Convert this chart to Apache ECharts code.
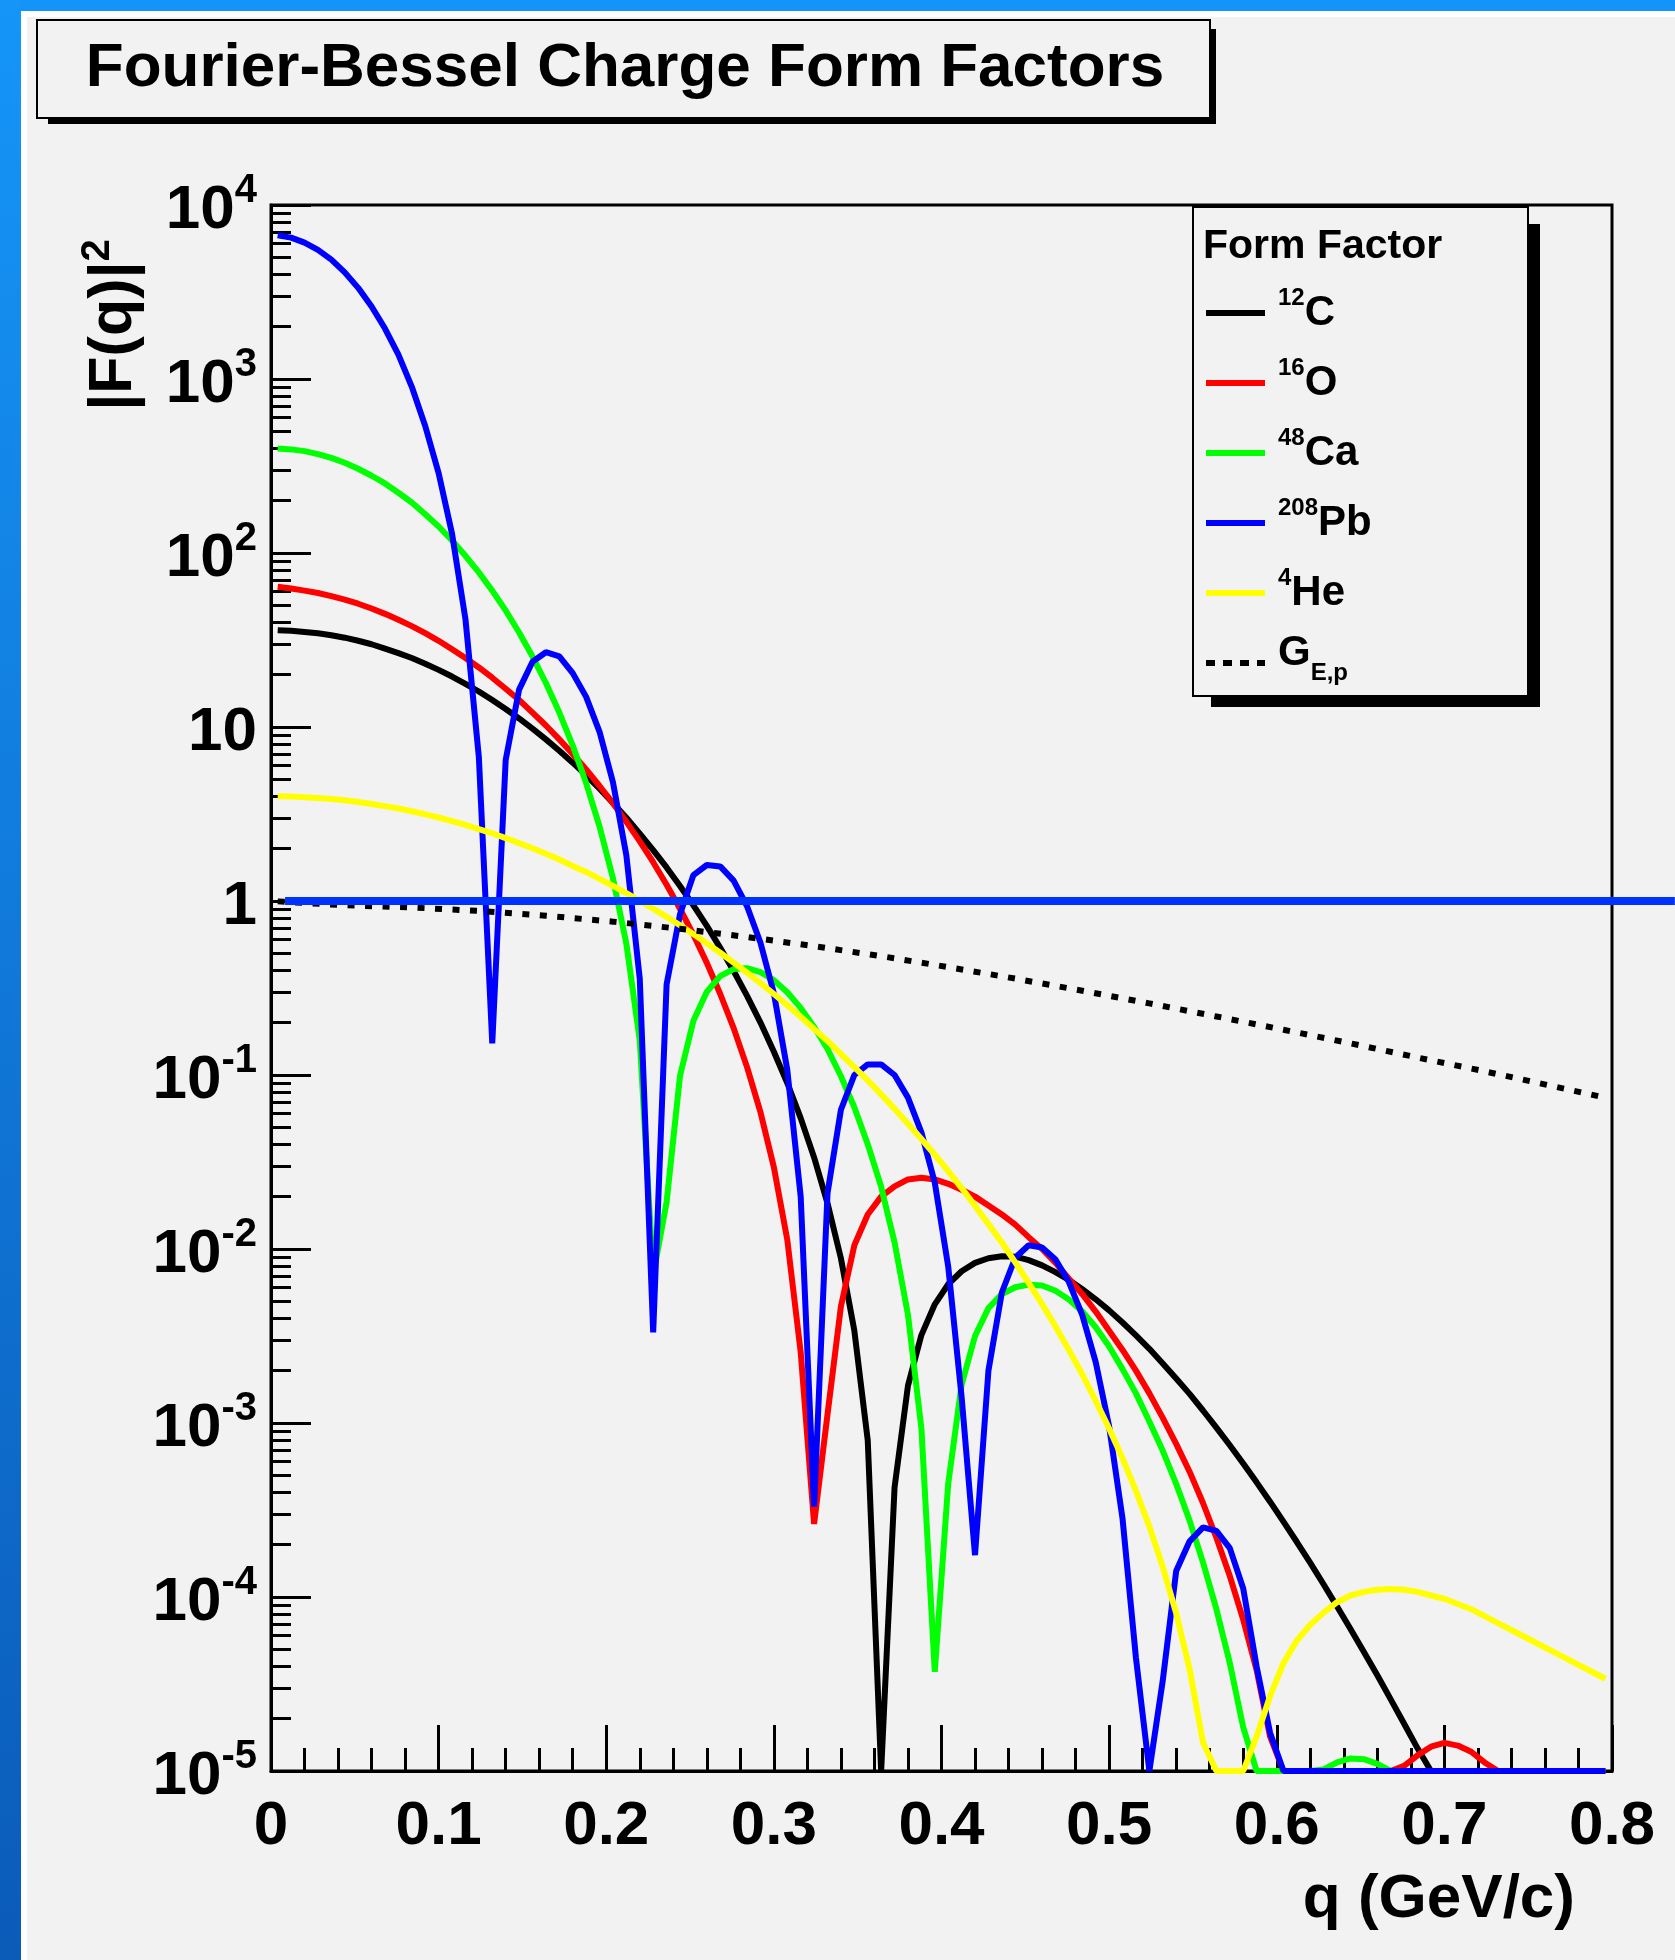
<!DOCTYPE html>
<html>
<head>
<meta charset="utf-8">
<title>Fourier-Bessel Charge Form Factors</title>
<script src="https://cdn.jsdelivr.net/npm/echarts@6/dist/echarts.min.js"></script>
<style>
  html, body { margin: 0; padding: 0; background: #f2f2f2; }
  #chart { width: 1675px; height: 1960px; }
</style>
</head>
<body>
<div id="chart"></div>
<script>
// momentum transfer q (GeV/c), sampled at bin centres
const q = [
  0.004, 0.012, 0.020, 0.028, 0.036, 0.044, 0.052, 0.060, 0.068, 0.076,
  0.084, 0.092, 0.100, 0.108, 0.116, 0.124, 0.132, 0.140, 0.148, 0.156,
  0.164, 0.172, 0.180, 0.188, 0.196, 0.204, 0.212, 0.220, 0.228, 0.236,
  0.244, 0.252, 0.260, 0.268, 0.276, 0.284, 0.292, 0.300, 0.308, 0.316,
  0.324, 0.332, 0.340, 0.348, 0.356, 0.364, 0.372, 0.380, 0.388, 0.396,
  0.404, 0.412, 0.420, 0.428, 0.436, 0.444, 0.452, 0.460, 0.468, 0.476,
  0.484, 0.492, 0.500, 0.508, 0.516, 0.524, 0.532, 0.540, 0.548, 0.556,
  0.564, 0.572, 0.580, 0.588, 0.596, 0.604, 0.612, 0.620, 0.628, 0.636,
  0.644, 0.652, 0.660, 0.668, 0.676, 0.684, 0.692, 0.700, 0.708, 0.716,
  0.724, 0.732, 0.740, 0.748, 0.756, 0.764, 0.772, 0.780, 0.788, 0.796
];

// |F(q)|^2 (values at the 1e-5 floor are drawn on the floor)
const c12 = [
  36.0, 35.7, 35.2, 34.6, 33.7, 32.6, 31.3, 29.9, 28.2, 26.6,
  24.9, 23.1, 21.3, 19.5, 17.7, 16.0, 14.3, 12.7, 11.2, 9.79,
  8.49, 7.31, 6.24, 5.27, 4.42, 3.66, 3.01, 2.44, 1.96, 1.56,
  1.22, 0.944, 0.719, 0.538, 0.396, 0.285, 0.200, 0.136, 0.0899, 0.0565,
  0.0336, 0.0183, 0.00883, 0.00340, 0.000794, 1e-5, 0.000427, 0.00164, 0.00320, 0.00481,
  0.00627, 0.00745, 0.00832, 0.00885, 0.00908, 0.00904, 0.00863, 0.00805, 0.00736, 0.00664,
  0.00587, 0.00514, 0.00444, 0.00378, 0.00319, 0.00267, 0.00220, 0.00180, 0.00147, 0.00118,
  0.000940, 0.000745, 0.000585, 0.000456, 0.000353, 0.000271, 0.000207, 0.000157, 0.000118, 8.81e-5,
  6.55e-5, 4.83e-5, 3.55e-5, 2.58e-5, 1.87e-5, 1.35e-5, 1e-5, 1e-5, 1e-5, 1e-5,
  1e-5, 1e-5, 1e-5, 1e-5, 1e-5, 1e-5, 1e-5, 1e-5, 1e-5, 1e-5
];
const o16 = [
  64.0, 62.5, 60.8, 58.9, 56.5, 54.0, 51.1, 48.0, 44.7, 41.3,
  38.0, 34.6, 31.3, 28.0, 24.9, 22.0, 19.2, 16.6, 14.3, 12.1,
  10.2, 8.49, 7.00, 5.70, 4.58, 3.65, 2.85, 2.20, 1.67, 1.24,
  0.902, 0.640, 0.441, 0.292, 0.186, 0.111, 0.0611, 0.0295, 0.0113, 0.00255,
  0.000263, 0.00112, 0.00468, 0.0105, 0.0158, 0.0200, 0.0229, 0.0251, 0.0257, 0.0251,
  0.0237, 0.0219, 0.0200, 0.0178, 0.0158, 0.0138, 0.0117, 0.0100, 0.00832, 0.00676,
  0.00550, 0.00437, 0.00339, 0.00263, 0.00200, 0.00148, 0.00107, 0.000759, 0.000525, 0.000347,
  0.000219, 0.000132, 7.41e-5, 3.80e-5, 1.58e-5, 1e-5, 1e-5, 1e-5, 1e-5, 1e-5,
  1e-5, 1e-5, 1e-5, 1e-5, 1.07e-5, 1.23e-5, 1.38e-5, 1.45e-5, 1.40e-5, 1.29e-5,
  1.12e-5, 1e-5, 1e-5, 1e-5, 1e-5, 1e-5, 1e-5, 1e-5, 1e-5, 1e-5
];
const ca48 = [
  399, 394, 385, 370, 352, 330, 305, 278, 251, 222,
  195, 167, 142, 118, 96.4, 77.3, 60.8, 46.7, 34.9, 25.4,
  17.9, 12.1, 7.82, 4.76, 2.68, 1.35, 0.568, 0.158, 0.00708, 0.0186,
  0.0989, 0.205, 0.301, 0.370, 0.406, 0.411, 0.390, 0.351, 0.299, 0.243,
  0.189, 0.141, 0.0984, 0.0653, 0.0400, 0.0228, 0.0109, 0.00419, 0.000933, 3.72e-5,
  0.000447, 0.00166, 0.00316, 0.00457, 0.00550, 0.00603, 0.00624, 0.00617, 0.00575, 0.00513,
  0.00437, 0.00355, 0.00275, 0.00204, 0.00148, 0.00102, 0.000692, 0.000447, 0.000275, 0.000158,
  8.51e-5, 4.17e-5, 1.78e-5, 1e-5, 1e-5, 1e-5, 1e-5, 1e-5, 1.02e-5, 1.12e-5,
  1.18e-5, 1.17e-5, 1.10e-5, 1e-5, 1e-5, 1e-5, 1e-5, 1e-5, 1e-5, 1e-5,
  1e-5, 1e-5, 1e-5, 1e-5, 1e-5, 1e-5, 1e-5, 1e-5, 1e-5, 1e-5
];
const pb208 = [
  6700, 6490, 6080, 5520, 4850, 4100, 3340, 2610, 1950, 1380,
  902, 537, 288, 129, 41.7, 6.71, 0.152, 6.46, 16.4, 23.7,
  26.9, 25.5, 20.4, 14.9, 9.38, 4.81, 1.83, 0.357, 0.00332, 0.332,
  0.839, 1.41, 1.61, 1.58, 1.31, 0.933, 0.575, 0.295, 0.107, 0.0200,
  0.000331, 0.0209, 0.0631, 0.100, 0.115, 0.115, 0.100, 0.0741, 0.0468, 0.0240,
  0.00794, 0.00141, 0.000174, 0.00200, 0.00562, 0.00891, 0.0105, 0.0102, 0.00871, 0.00646,
  0.00417, 0.00224, 0.000955, 0.000282, 4.47e-5, 1e-5, 3.31e-5, 0.000141, 0.000209, 0.000251,
  0.000240, 0.000191, 0.000112, 3.98e-5, 1.66e-5, 1e-5, 1e-5, 1e-5, 1e-5, 1e-5,
  1e-5, 1e-5, 1e-5, 1e-5, 1e-5, 1e-5, 1e-5, 1e-5, 1e-5, 1e-5,
  1e-5, 1e-5, 1e-5, 1e-5, 1e-5, 1e-5, 1e-5, 1e-5, 1e-5, 1e-5
];
const he4 = [
  4.00, 3.98, 3.95, 3.91, 3.86, 3.79, 3.71, 3.61, 3.51, 3.40,
  3.28, 3.15, 3.02, 2.88, 2.74, 2.59, 2.45, 2.30, 2.15, 2.01,
  1.87, 1.73, 1.59, 1.47, 1.34, 1.22, 1.11, 1.00, 0.904, 0.811,
  0.725, 0.645, 0.571, 0.504, 0.442, 0.387, 0.337, 0.292, 0.252, 0.216,
  0.184, 0.157, 0.132, 0.111, 0.0931, 0.0774, 0.0639, 0.0525, 0.0429, 0.0348,
  0.0280, 0.0224, 0.0177, 0.0139, 0.0109, 0.00838, 0.00639, 0.00482, 0.00359, 0.00263,
  0.00190, 0.00134, 0.000930, 0.000626, 0.000407, 0.000254, 0.000149, 8.07e-5, 3.85e-5, 1.46e-5,
  1e-5, 1e-5, 1e-5, 1.58e-5, 2.69e-5, 4.17e-5, 5.62e-5, 6.92e-5, 8.13e-5, 9.33e-5,
  0.000102, 0.000107, 0.000110, 0.000111, 0.000110, 0.000107, 0.000102, 9.77e-5, 9.12e-5, 8.51e-5,
  7.76e-5, 7.08e-5, 6.46e-5, 5.89e-5, 5.37e-5, 4.90e-5, 4.47e-5, 4.07e-5, 3.72e-5, 3.39e-5
];

// proton electric form factor (dotted)
const qGep = [0.004, 0.044, 0.084, 0.124, 0.164, 0.204, 0.244, 0.284, 0.324, 0.364, 0.404,
              0.444, 0.484, 0.524, 0.564, 0.604, 0.644, 0.684, 0.724, 0.764, 0.796];
const gep = [0.995, 0.945, 0.918, 0.877, 0.823, 0.761, 0.692, 0.621, 0.550, 0.482, 0.417,
             0.358, 0.305, 0.258, 0.217, 0.182, 0.152, 0.126, 0.105, 0.0866, 0.0740];

// horizontal line at |F|^2 = 1, it runs out past the frame to the window edge
const unityX = [0.0084, 0.8375];
const unityY = [1, 1];

const legendText = {
  '12C': '{sp| }{s|12}{m|C}',
  '16O': '{sp| }{s|16}{m|O}',
  '48Ca': '{sp| }{s|48}{m|Ca}',
  '208Pb': '{sp| }{s|208}{m|Pb}',
  '4He': '{sp| }{s|4}{m|He}',
  'GEp': '{sp| }{g|G}{b|E,p}'
};

const FONT = '"Liberation Sans", Arial, Helvetica, sans-serif';

function curve(name, xs, ys, color, extra) {
  return Object.assign({
    name: name,
    type: 'line',
    data: xs.map(function (x, i) { return [x, ys[i]]; }),
    symbol: 'none',
    showSymbol: false,
    clip: false,
    silent: true,
    lineStyle: { color: color, width: 6 },
    itemStyle: { color: color },
    emphasis: { disabled: true }
  }, extra || {});
}

const chart = echarts.init(document.getElementById('chart'), null, { renderer: 'canvas' });

const option = {
  animation: false,
  backgroundColor: '#f2f2f2',
  title: [
    {
      text: 'Fourier-Bessel Charge Form Factors',
      left: 625, top: 69, padding: 0,
      textAlign: 'center', textVerticalAlign: 'middle',
      textStyle: { fontFamily: FONT, fontSize: 62, fontWeight: 'bold', color: '#000', lineHeight: 62 },
      z: 6
    },
    {
      text: 'Form Factor',
      left: 1203, top: 247, padding: 0,
      textAlign: 'left', textVerticalAlign: 'middle',
      textStyle: { fontFamily: FONT, fontSize: 41, fontWeight: 'bold', color: '#000', lineHeight: 41 },
      z: 6
    }
  ],
  grid: [
    {
      left: 271, top: 205, width: 1341, height: 1566,
      show: true, borderColor: '#000', borderWidth: 3, backgroundColor: 'transparent'
    },
    // same scale, stretched to the right window edge, for the unity line
    { left: 271, top: 205, width: 1404, height: 1566, show: false }
  ],
  xAxis: [
    {
      type: 'value', min: 0, max: 0.8, interval: 0.1,
      axisLine: { show: true, onZero: false, lineStyle: { color: '#000', width: 3 } },
      axisTick: { show: true, inside: true, length: 46, lineStyle: { color: '#000', width: 3 } },
      minorTick: { show: true, splitNumber: 5, length: 23, lineStyle: { color: '#000', width: 3 } },
      splitLine: { show: false },
      axisLabel: {
        margin: 25, color: '#000', fontFamily: FONT, fontSize: 62, fontWeight: 'bold', lineHeight: 62,
        showMinLabel: true, showMaxLabel: true
      }
    },
    { gridIndex: 1, type: 'value', min: 0, max: 0.8 * 1404 / 1341, show: false }
  ],
  yAxis: [
    {
      type: 'log', logBase: 10, min: 1e-5, max: 1e4, splitNumber: 9,
      axisLine: { show: true, onZero: false, lineStyle: { color: '#000', width: 3 } },
      axisTick: { show: true, inside: true, length: 40, lineStyle: { color: '#000', width: 3 } },
      minorTick: { show: true, splitNumber: 9, length: 20, lineStyle: { color: '#000', width: 3 } },
      splitLine: { show: false },
      axisLabel: {
        margin: 14, color: '#000',
        showMinLabel: true, showMaxLabel: true,
        formatter: function (v) {
          const e = Math.round(Math.log10(v));
          if (e === 0) return '{m|1}';
          if (e === 1) return '{m|10}';
          return '{m|10}{s|' + e + '}';
        },
        rich: {
          m: { fontFamily: FONT, fontSize: 62, fontWeight: 'bold', color: '#000', lineHeight: 74, verticalAlign: 'bottom' },
          s: { fontFamily: FONT, fontSize: 40, fontWeight: 'bold', color: '#000', lineHeight: 40, verticalAlign: 'top', padding: [3, 0, 0, 0] }
        }
      }
    },
    { gridIndex: 1, type: 'log', logBase: 10, min: 1e-5, max: 1e4, show: false }
  ],
  legend: {
    orient: 'vertical', left: 1206, top: 282, padding: 0,
    itemWidth: 59, itemHeight: 6, itemGap: 8,
    selectedMode: false,
    itemStyle: { borderWidth: 0 },
    data: [
      { name: '12C', icon: 'rect' },
      { name: '16O', icon: 'rect' },
      { name: '48Ca', icon: 'rect' },
      { name: '208Pb', icon: 'rect' },
      { name: '4He', icon: 'rect' },
      { name: 'GEp', icon: 'path://M0,0H9V6H0Z M17,0H26V6H17Z M34,0H43V6H34Z M51,0H59V6H51Z' }
    ],
    formatter: function (name) { return legendText[name]; },
    textStyle: {
      color: '#000', fontFamily: FONT, fontWeight: 'bold',
      rich: {
        // invisible spacer, its box spans the full row so every row has the same height
        sp: { fontFamily: FONT, fontSize: 62, width: 8, lineHeight: 62, verticalAlign: 'middle' },
        s: { fontFamily: FONT, fontSize: 24, fontWeight: 'bold', color: '#000', verticalAlign: 'top', padding: [4, 0, 0, 0] },
        m: { fontFamily: FONT, fontSize: 42, fontWeight: 'bold', color: '#000', verticalAlign: 'middle' },
        g: { fontFamily: FONT, fontSize: 42, fontWeight: 'bold', color: '#000', verticalAlign: 'top' },
        b: { fontFamily: FONT, fontSize: 24, fontWeight: 'bold', color: '#000', verticalAlign: 'bottom', padding: [0, 0, 9, 0] }
      }
    },
    z: 4
  },
  graphic: [
    // window decoration
    { type: 'rect', z: -10, silent: true, shape: { x: 0, y: 0, width: 1675, height: 11 }, style: { fill: '#1494f8' } },
    { type: 'rect', z: -10, silent: true, shape: { x: 0, y: 0, width: 21, height: 1960 },
      style: { fill: new echarts.graphic.LinearGradient(0, 0, 0, 1, [
        { offset: 0, color: '#1595f8' }, { offset: 1, color: '#0b5bb9' }]) } },
    { type: 'rect', z: -10, silent: true, shape: { x: 21, y: 11, width: 1654, height: 6 }, style: { fill: '#ffffff' } },
    { type: 'rect', z: -10, silent: true, shape: { x: 21, y: 11, width: 6, height: 1949 }, style: { fill: '#ffffff' } },
    // title box with shadow
    { type: 'rect', z: 5, silent: true, shape: { x: 48, y: 29, width: 1168, height: 95 }, style: { fill: '#000' } },
    { type: 'rect', z: 5, z2: 1, silent: true, shape: { x: 37, y: 20, width: 1173, height: 98 },
      style: { fill: '#f2f2f2', stroke: '#000', lineWidth: 2 } },
    // legend box with shadow
    { type: 'rect', z: 3, silent: true, shape: { x: 1211, y: 224, width: 329, height: 483 }, style: { fill: '#000' } },
    { type: 'rect', z: 3, z2: 1, silent: true, shape: { x: 1193, y: 207, width: 335, height: 489 },
      style: { fill: '#f2f2f2', stroke: '#000', lineWidth: 2 } },
    // axis titles
    { type: 'text', z: 5, silent: true, x: 114, y: 325, rotation: Math.PI / 2,
      style: {
        text: '{m||F(q)|}{s|2}', align: 'center', verticalAlign: 'middle', fill: '#000',
        rich: {
          m: { fontFamily: FONT, fontSize: 61, fontWeight: 'bold', fill: '#000', lineHeight: 80, verticalAlign: 'middle' },
          s: { fontFamily: FONT, fontSize: 40, fontWeight: 'bold', fill: '#000', verticalAlign: 'top', padding: [4, 0, 0, 0] }
        }
      } },
    { type: 'text', z: 5, silent: true, x: 1575, y: 1900,
      style: { text: 'q (GeV/c)', align: 'right', verticalAlign: 'middle', fill: '#000',
               fontFamily: FONT, fontSize: 62, fontWeight: 'bold' } }
  ],
  series: [
    curve('12C', q, c12, '#000000'),
    curve('16O', q, o16, '#ff0000'),
    curve('48Ca', q, ca48, '#00ff00'),
    curve('208Pb', q, pb208, '#0000ff'),
    curve('4He', q, he4, '#ffff00'),
    curve('GEp', qGep, gep, '#000000', {
      lineStyle: { color: '#000000', width: 6, type: [7, 10.5], cap: 'butt' }
    }),
    curve('unity', unityX, unityY, '#0033ff', {
      xAxisIndex: 1, yAxisIndex: 1,
      lineStyle: { color: '#0033ff', width: 8 }, z: 3
    })
  ]
};

chart.setOption(option);
</script>
</body>
</html>
